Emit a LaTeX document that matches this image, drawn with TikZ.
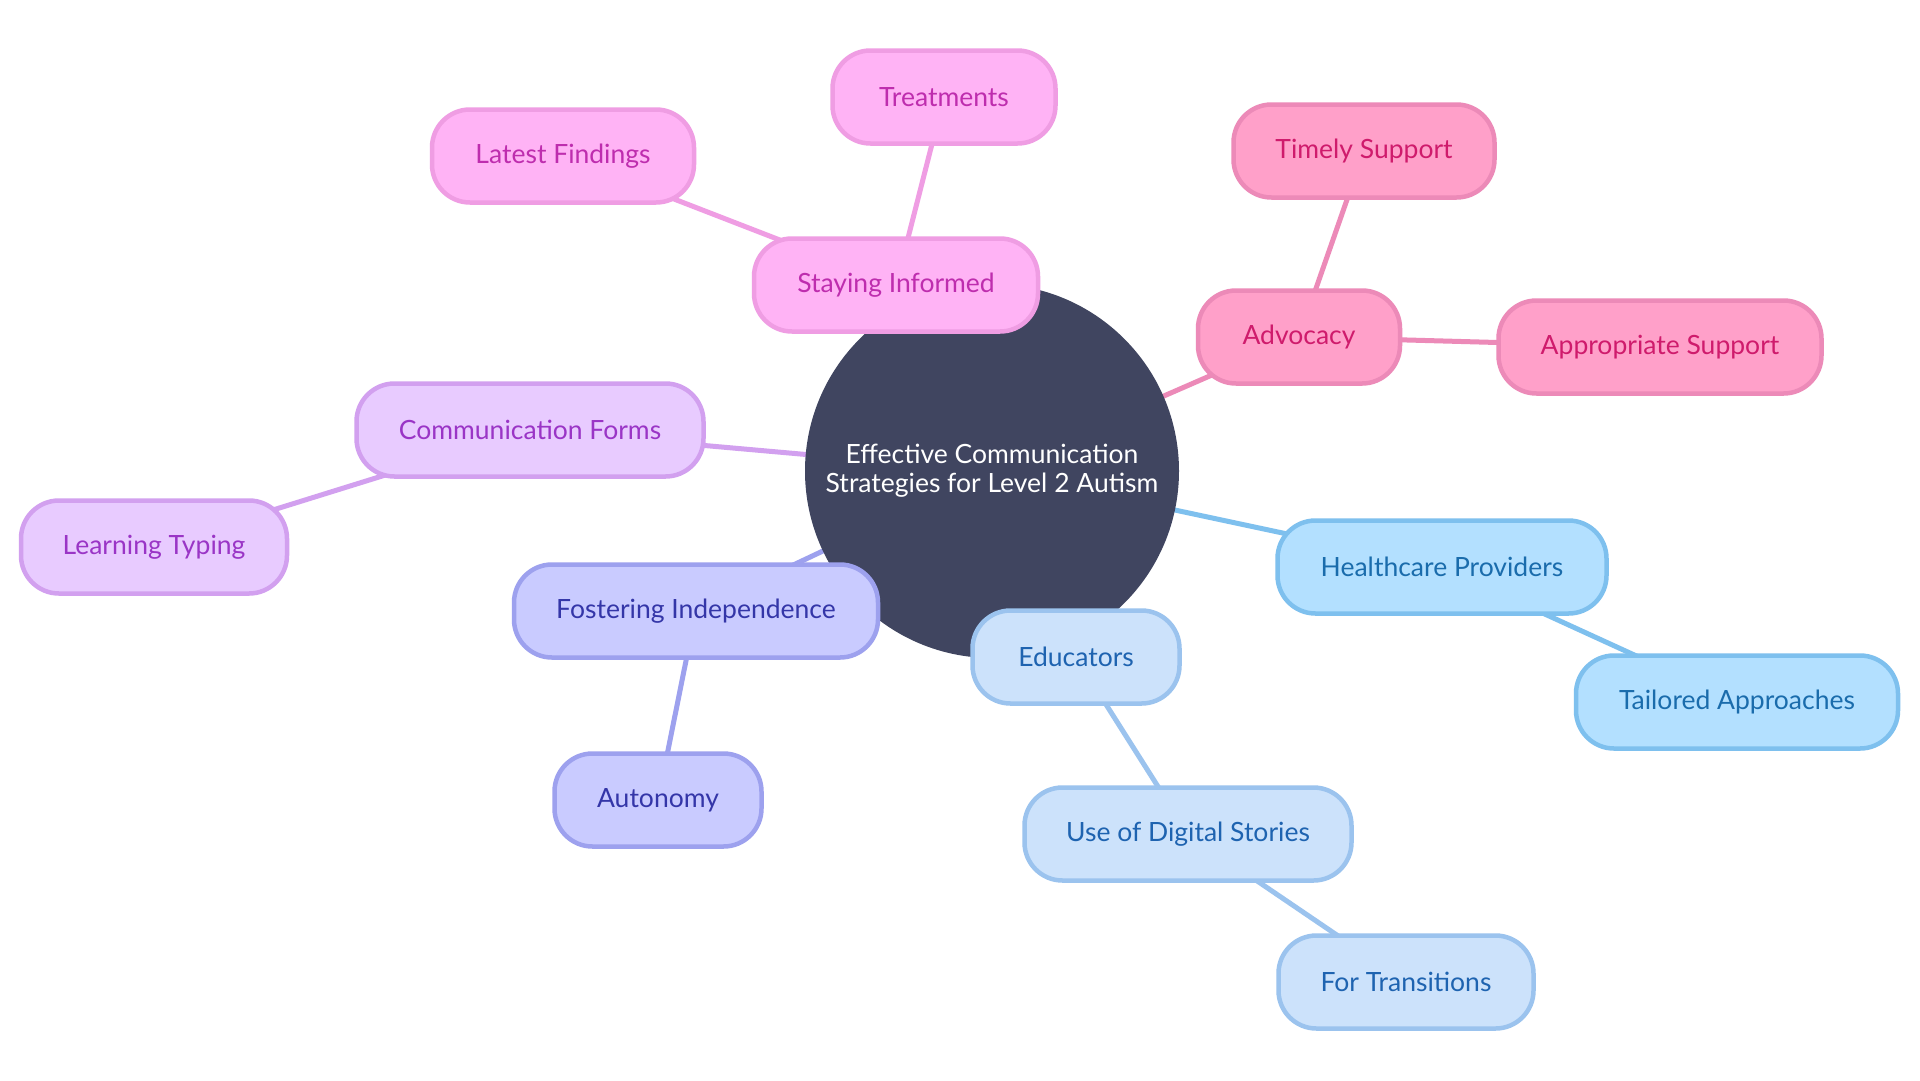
\documentclass[tikz,border=0pt]{standalone}
\usepackage{fontspec}
\setmainfont{Lato}
\usetikzlibrary{backgrounds}
\definecolor{rootF}{HTML}{404560}
\definecolor{pinkF}{HTML}{FFB3F5}
\definecolor{pinkD}{HTML}{EF9DE3}
\definecolor{pinkT}{HTML}{BE2DAE}
\definecolor{roseF}{HTML}{FFA0C9}
\definecolor{roseD}{HTML}{EC8AB8}
\definecolor{roseT}{HTML}{CF1B6C}
\definecolor{lavF}{HTML}{E8CBFF}
\definecolor{lavD}{HTML}{D2A0EF}
\definecolor{lavT}{HTML}{9A35C6}
\definecolor{periF}{HTML}{C9CBFF}
\definecolor{periD}{HTML}{9DA1EE}
\definecolor{periT}{HTML}{3436A8}
\definecolor{skyF}{HTML}{B3E0FF}
\definecolor{skyD}{HTML}{7EC0EE}
\definecolor{skyT}{HTML}{1A6CAC}
\definecolor{paleF}{HTML}{CCE2FB}
\definecolor{paleD}{HTML}{9BC3EE}
\definecolor{paleT}{HTML}{1E63B0}
\tikzset{
  box/.style={draw, rounded corners=38pt, line width=4.5pt, minimum height=93pt, inner sep=0pt, font=\fontsize{26.5}{30}\selectfont},
  pinkbox/.style={box, fill=pinkF, draw=pinkD, text=pinkT},
  rosebox/.style={box, fill=roseF, draw=roseD, text=roseT},
  lavbox/.style={box, fill=lavF, draw=lavD, text=lavT},
  peribox/.style={box, fill=periF, draw=periD, text=periT},
  skybox/.style={box, fill=skyF, draw=skyD, text=skyT},
  palebox/.style={box, fill=paleF, draw=paleD, text=paleT},
  link/.style={line width=5pt},
  rootnode/.style={circle, fill=rootF, text=white, minimum size=374pt, inner sep=0pt, align=center, font=\fontsize{26.5}{29}\selectfont}
}
\begin{document}
\begin{tikzpicture}[x=1pt,y=-1pt]
\useasboundingbox (0,0) rectangle (1920,1080);
\node[rootnode] (root) at (992,471) {Effective Communication\\Strategies for Level 2 Autism};
\node[pinkbox, minimum width=284pt] (si) at (896,285) {Staying Informed};
\node[pinkbox, minimum width=223pt] (tr) at (944,97) {Treatments};
\node[pinkbox, minimum width=262pt] (lf) at (563,156) {Latest Findings};
\node[rosebox, minimum width=202pt] (adv) at (1299,337) {Advocacy};
\node[rosebox, minimum width=261pt] (ts) at (1364,151) {Timely Support};
\node[rosebox, minimum width=323pt] (as) at (1660,347) {Appropriate Support};
\node[lavbox, minimum width=347pt] (cf) at (530,430) {Communication Forms};
\node[lavbox, minimum width=266pt] (lt) at (154,547) {Learning Typing};
\node[peribox, minimum width=364pt] (fi) at (696,611) {Fostering Independence};
\node[peribox, minimum width=207pt] (au) at (658,800) {Autonomy};
\node[skybox, minimum width=329pt] (hp) at (1442,567) {Healthcare Providers};
\node[skybox, minimum width=322pt] (ta) at (1737,702) {Tailored Approaches};
\node[palebox, minimum width=207pt] (ed) at (1076,657) {Educators};
\node[palebox, minimum width=327pt] (ud) at (1188,834) {Use of Digital Stories};
\node[palebox, minimum width=255pt] (ft) at (1406,982) {For Transitions};
\begin{scope}[on background layer]
\fill[white] (0,0) rectangle (1920,1080);
\draw[link, draw=pinkD] (root.center) -- (si.center);
\draw[link, draw=pinkD] (si.center) -- (tr.center);
\draw[link, draw=pinkD] (si.center) -- (lf.center);
\draw[link, draw=roseD] (root.center) -- (adv.center);
\draw[link, draw=roseD] (adv.center) -- (ts.center);
\draw[link, draw=roseD] (adv.center) -- (as.center);
\draw[link, draw=lavD] (root.center) -- (cf.center);
\draw[link, draw=lavD] (cf.center) -- (lt.center);
\draw[link, draw=periD] (root.center) -- (fi.center);
\draw[link, draw=periD] (fi.center) -- (au.center);
\draw[link, draw=skyD] (root.center) -- (hp.center);
\draw[link, draw=skyD] (hp.center) -- (ta.center);
\draw[link, draw=paleD] (root.center) -- (ed.center);
\draw[link, draw=paleD] (ed.center) -- (ud.center);
\draw[link, draw=paleD] (ud.center) -- (ft.center);
\end{scope}
\end{tikzpicture}
\end{document}
